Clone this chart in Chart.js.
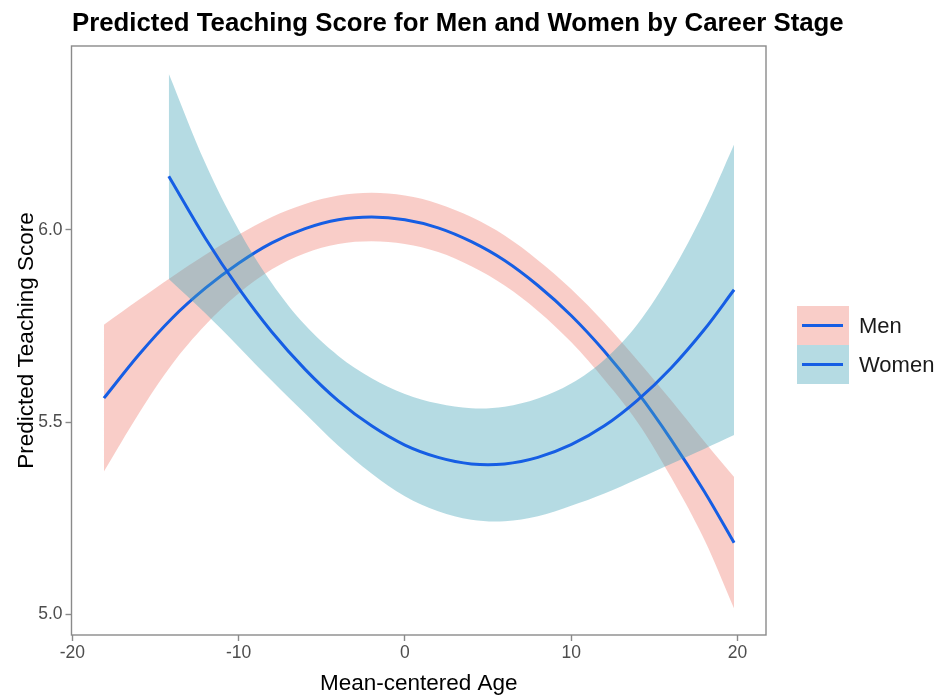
<!DOCTYPE html>
<html>
<head>
<meta charset="utf-8">
<title>Predicted Teaching Score for Men and Women by Career Stage</title>
<script src="https://cdn.jsdelivr.net/npm/chart.js@4.4.1/dist/chart.umd.min.js"></script>
<style>
  html, body { margin: 0; padding: 0; background: #ffffff; }
  canvas { display: block; }
</style>
</head>
<body>
<canvas id="chart" width="936" height="697"></canvas>
<script>
// Model predictions with 95% confidence bands, by gender
const seriesNames = ['Men', 'Women'];

const menAge   = [-18.1, -16, -14, -12, -10, -8, -6, -4, -2, 0, 2, 4, 6, 8, 10, 12, 14, 16, 18, 19.8];
const menFit   = [5.562, 5.675, 5.770, 5.848, 5.913, 5.966, 6.003, 6.026, 6.033, 6.026, 6.005, 5.969, 5.920, 5.855, 5.777, 5.684, 5.577, 5.455, 5.320, 5.186];
const menUpper = [5.753, 5.818, 5.878, 5.935, 5.987, 6.033, 6.067, 6.089, 6.096, 6.089, 6.068, 6.033, 5.985, 5.921, 5.846, 5.758, 5.660, 5.557, 5.450, 5.357];
const menLower = [5.371, 5.522, 5.650, 5.752, 5.834, 5.897, 5.939, 5.963, 5.970, 5.963, 5.942, 5.905, 5.855, 5.789, 5.708, 5.610, 5.499, 5.357, 5.195, 5.015];

const womenAge   = [-14.2, -12, -10, -8, -6, -4, -2, 0, 2, 4, 6, 8, 10, 12, 14, 16, 18, 19.8];
const womenFit   = [6.139, 5.978, 5.848, 5.734, 5.637, 5.555, 5.490, 5.440, 5.408, 5.391, 5.391, 5.408, 5.441, 5.490, 5.557, 5.640, 5.740, 5.844];
const womenUpper = [6.406, 6.173, 6.000, 5.861, 5.752, 5.672, 5.614, 5.573, 5.548, 5.536, 5.540, 5.561, 5.600, 5.662, 5.755, 5.886, 6.048, 6.222];
const womenLower = [5.872, 5.783, 5.696, 5.607, 5.522, 5.438, 5.366, 5.307, 5.268, 5.246, 5.242, 5.255, 5.282, 5.314, 5.352, 5.391, 5.430, 5.466];

const xTickValues = [-20, -10, 0, 10, 20];
const yTickValues = [5.0, 5.5, 6.0];

// Styling
const FONT = '"Liberation Sans", Arial, Helvetica, sans-serif';
const lineColor = 'rgb(22, 94, 228)';
const bandColors = ['rgba(238, 112, 98, 0.35)', 'rgba(70, 165, 185, 0.40)'];
const frameColor = '#8a8a8a';
const CURVE = 0.35;

Chart.defaults.font.family = FONT;

const toPoints = (xs, ys) => xs.map((x, i) => ({ x: x, y: ys[i] }));

const edge = {
  pointRadius: 0,
  borderWidth: 0,
  tension: CURVE
};

// Title, panel frame and legend keys
const decorations = {
  id: 'decorations',
  afterDraw(chart) {
    const ctx = chart.ctx;
    const a = chart.chartArea;
    ctx.save();

    // panel frame
    ctx.strokeStyle = frameColor;
    ctx.lineWidth = 1.4;
    ctx.strokeRect(a.left, a.top, a.right - a.left, a.bottom - a.top);

    // title
    ctx.fillStyle = '#000000';
    ctx.font = 'bold 25.8px ' + FONT;
    ctx.textAlign = 'left';
    ctx.textBaseline = 'alphabetic';
    ctx.fillText('Predicted Teaching Score for Men and Women by Career Stage', 72, 31);

    // legend
    const kx = 797, kw = 52, kh = 39, ky = 306;
    seriesNames.forEach((name, i) => {
      const y0 = ky + i * kh;
      ctx.fillStyle = bandColors[i];
      ctx.fillRect(kx, y0, kw, kh);
      ctx.strokeStyle = lineColor;
      ctx.lineWidth = 3;
      ctx.beginPath();
      ctx.moveTo(kx + 5, y0 + kh / 2);
      ctx.lineTo(kx + kw - 6, y0 + kh / 2);
      ctx.stroke();
      ctx.fillStyle = '#1a1a1a';
      ctx.font = '22px ' + FONT;
      ctx.textBaseline = 'middle';
      ctx.fillText(name, 859, y0 + kh / 2 + 1);
    });
    ctx.restore();
  }
};

new Chart(document.getElementById('chart'), {
  type: 'line',
  data: {
    datasets: [
      Object.assign({ label: 'Men upper', data: toPoints(menAge, menUpper), fill: '+1',
        backgroundColor: bandColors[0], borderColor: 'rgba(0,0,0,0)', order: 6 }, edge),
      Object.assign({ label: 'Men lower', data: toPoints(menAge, menLower), fill: false,
        borderColor: 'rgba(0,0,0,0)', order: 5 }, edge),
      { label: seriesNames[0], data: toPoints(menAge, menFit), fill: false, borderColor: lineColor,
        borderWidth: 3, pointRadius: 0, tension: CURVE, order: 4 },
      Object.assign({ label: 'Women upper', data: toPoints(womenAge, womenUpper), fill: '+1',
        backgroundColor: bandColors[1], borderColor: 'rgba(0,0,0,0)', order: 3 }, edge),
      Object.assign({ label: 'Women lower', data: toPoints(womenAge, womenLower), fill: false,
        borderColor: 'rgba(0,0,0,0)', order: 2 }, edge),
      { label: seriesNames[1], data: toPoints(womenAge, womenFit), fill: false, borderColor: lineColor,
        borderWidth: 3, pointRadius: 0, tension: CURVE, order: 1 }
    ]
  },
  options: {
    responsive: false,
    animation: false,
    events: [],
    layout: { padding: { left: 0, right: 170, top: 46, bottom: 0 } },
    plugins: {
      legend: { display: false },
      tooltip: { enabled: false },
      title: { display: false }
    },
    scales: {
      x: {
        type: 'linear',
        min: -20.05,
        max: 21.72,
        afterBuildTicks: s => { s.ticks = xTickValues.map(v => ({ value: v })); },
        afterFit: s => { s.height = 62; },
        grid: { drawOnChartArea: false, drawTicks: true, tickLength: 6, tickWidth: 1.4, tickColor: frameColor },
        border: { display: false },
        ticks: { color: '#4d4d4d', font: { size: 17.5 }, padding: 2, maxRotation: 0,
          callback: v => String(v) },
        title: { display: true, text: 'Mean-centered Age', color: '#000000',
          font: { size: 22.5 }, padding: { top: 0, bottom: 0 } }
      },
      y: {
        type: 'linear',
        min: 4.946,
        max: 6.478,
        afterBuildTicks: s => { s.ticks = yTickValues.map(v => ({ value: v })); },
        afterFit: s => { s.width = 71.5; },
        grid: { drawOnChartArea: false, drawTicks: true, tickLength: 6, tickWidth: 1.4, tickColor: frameColor },
        border: { display: false },
        ticks: { color: '#4d4d4d', font: { size: 17.5 }, padding: 3,
          callback: v => v.toFixed(1) },
        title: { display: true, text: 'Predicted Teaching Score', color: '#000000',
          font: { size: 22.5 }, padding: { top: 13, bottom: 0 } }
      }
    }
  },
  plugins: [decorations]
});
</script>
</body>
</html>
